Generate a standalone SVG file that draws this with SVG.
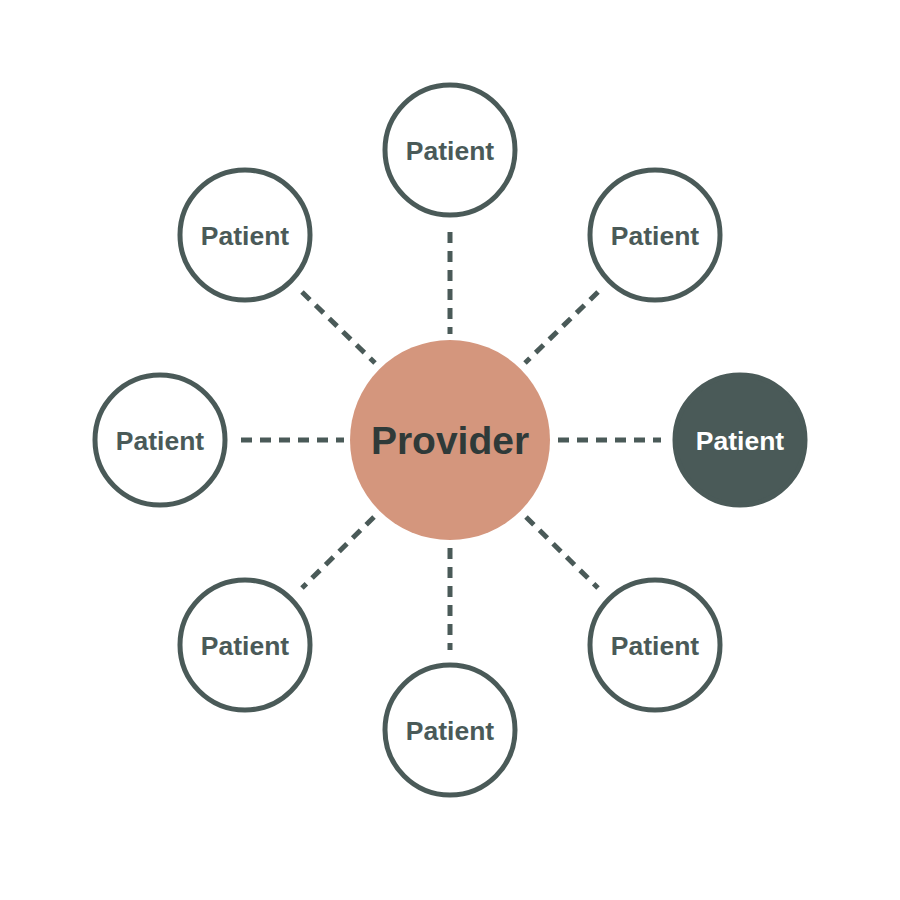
<svg xmlns="http://www.w3.org/2000/svg" width="900" height="900" viewBox="0 0 900 900">
<style>
.c{fill:#fff;stroke:#4a5a58;stroke-width:5}
.cf{fill:#4a5a58;stroke:#4a5a58;stroke-width:5}
.t{font-family:"Liberation Sans",Arial,sans-serif;font-weight:bold;font-size:26.5px;fill:#4a5a58;text-anchor:middle}
.tw{fill:#fff}
.e{stroke:#4a5a58;stroke-width:5;stroke-dasharray:11 8;fill:none}
</style>
<rect width="900" height="900" fill="#fff"/>
<g id="connectors">
<line class="e" x1="450" y1="232" x2="450" y2="334"/>
<line class="e" x1="450" y1="548" x2="450" y2="650"/>
<line class="e" x1="241" y1="440" x2="344" y2="440"/>
<line class="e" x1="558" y1="440" x2="661" y2="440"/>
<line class="e" x1="302" y1="292" x2="375" y2="363"/>
<line class="e" x1="598" y1="292" x2="525" y2="363"/>
<line class="e" x1="374" y1="517" x2="302" y2="588"/>
<line class="e" x1="526" y1="517" x2="598" y2="588"/>
</g>
<g id="provider">
<circle cx="450" cy="440" r="100" fill="#d4967d"/>
<text x="450" y="454" font-family="'Liberation Sans',Arial,sans-serif" font-weight="bold" font-size="39" fill="#2f3a39" text-anchor="middle">Provider</text>
</g>
<g id="p-top"><circle class="c" cx="450" cy="150" r="65"/><text class="t" x="450" y="160">Patient</text></g>
<g id="p-tl"><circle class="c" cx="245" cy="235" r="65"/><text class="t" x="245" y="245">Patient</text></g>
<g id="p-tr"><circle class="c" cx="655" cy="235" r="65"/><text class="t" x="655" y="245">Patient</text></g>
<g id="p-left"><circle class="c" cx="160" cy="440" r="65"/><text class="t" x="160" y="450">Patient</text></g>
<g id="p-right"><circle class="cf" cx="740" cy="440" r="65"/><text class="t tw" x="740" y="450">Patient</text></g>
<g id="p-bl"><circle class="c" cx="245" cy="645" r="65"/><text class="t" x="245" y="655">Patient</text></g>
<g id="p-bottom"><circle class="c" cx="450" cy="730" r="65"/><text class="t" x="450" y="740">Patient</text></g>
<g id="p-br"><circle class="c" cx="655" cy="645" r="65"/><text class="t" x="655" y="655">Patient</text></g>
</svg>
